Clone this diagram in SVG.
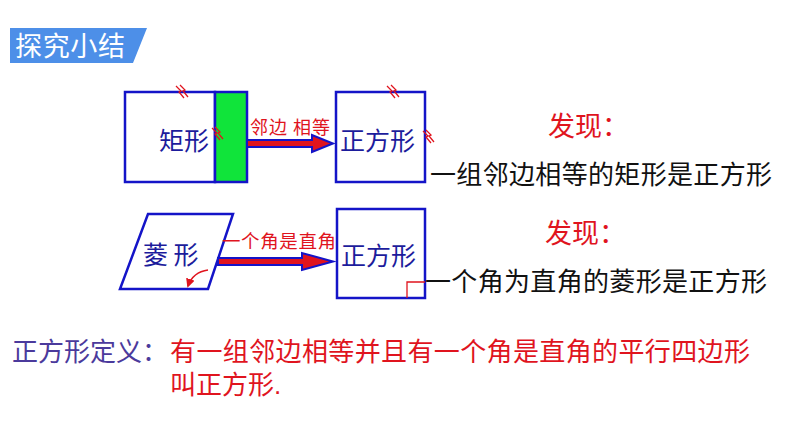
<svg xmlns="http://www.w3.org/2000/svg" width="794" height="447" viewBox="0 0 794 447">
<style>
text{font-family:"Noto Sans CJK SC","Liberation Sans",sans-serif;}
text.def{font-family:"Liberation Sans","Noto Sans CJK SC",sans-serif;}
.box{fill:#fff;stroke:#1414c8;stroke-width:2.5;}
.lbl{fill:#1c1c9c;font-size:25px;}
.red{fill:#e0141e;}
.blk{fill:#111;font-size:26px;}
.tick{stroke:#e0141e;stroke-width:1.3;fill:none;}
.arrow{fill:#e0141e;stroke:#1414c8;stroke-width:2;stroke-linejoin:miter;}
</style>
<defs>
<marker id="ah" viewBox="0 0 10 10" refX="8" refY="5" markerWidth="6" markerHeight="6" orient="auto"><path d="M0 0L10 5L0 10z" fill="#e0141e"/></marker>
</defs>
<rect width="794" height="447" fill="#fff"/>
<g id="header">
<polygon points="10,28 147,28 133,63 10,63" fill="#4d8fe8"/>
<text x="15" y="56" font-size="27" fill="#fff" textLength="110" lengthAdjust="spacing">探究小结</text>
</g>
<g id="rect">
<rect class="box" x="125" y="92" width="90" height="90"/>
<rect x="215" y="92" width="32" height="90" fill="#10e43a" stroke="#1414c8" stroke-width="2.5"/>
<text class="lbl" x="159" y="150" font-size="26">矩形</text>
<path class="tick" d="M176 86L181 91L179 92L184 98M180 85L185 90L183 91L188 97"/>
<path class="tick" d="M212 128L217 133L215 134L220 140M215 127L220 132L218 133L223 139"/>
</g>
<g id="square1">
<rect class="box" x="336" y="92" width="89" height="90"/>
<text class="lbl" x="340" y="150" font-size="26">正方形</text>
<path class="tick" d="M387 86L392 91L390 92L395 98M391 85L396 90L394 91L399 97"/>
<path class="tick" d="M423 131L428 136L426 137L431 143M426 130L431 135L429 136L434 142"/>
</g>
<g id="rhombus">
<polygon class="box" points="148,214 233,214 208,289 120,289"/>
<text class="lbl" x="143" y="264" font-size="26">菱 形</text>
<path d="M208 270Q193 272 188 286" fill="none" stroke="#e0141e" stroke-width="1.5" marker-end="url(#ah)"/>
</g>
<g id="square2">
<rect class="box" x="337" y="209" width="88" height="89"/>
<text class="lbl" x="341" y="265" font-size="26">正方形</text>
<path d="M407 298V282H425" fill="none" stroke="#e0141e" stroke-width="1.3"/>
</g>
<g id="connectors">
<polygon class="arrow" points="247,140 312,140 312,135 333,143.5 312,152 312,147 247,147"/>
<text class="red" x="250" y="134" font-size="18" textLength="80" lengthAdjust="spacing">邻边 相等</text>
<polygon class="arrow" points="218,258 302,258 302,253 333,261.5 302,270 302,265 218,265"/>
<text class="red" x="222" y="248" font-size="18.5" textLength="114" lengthAdjust="spacing">一个角是直角</text>
</g>
<g id="notes">
<text class="red" x="548" y="136" font-size="27">发现：</text>
<text class="blk" x="430" y="184" textLength="342" lengthAdjust="spacing">一组邻边相等的矩形是正方形</text>
<text class="red" x="545" y="243" font-size="27">发现：</text>
<text class="blk" x="425" y="291" textLength="342" lengthAdjust="spacing">一个角为直角的菱形是正方形</text>
</g>
<g id="definition">
<text x="12" y="361" font-size="26" fill="#4b3a9c" textLength="156" lengthAdjust="spacing">正方形定义：</text>
<text class="red def" x="170" y="361" font-size="26" textLength="580" lengthAdjust="spacing">有一组邻边相等并且有一个角是直角的平行四边形</text>
<text class="red def" x="170" y="394" font-size="26">叫正方形.</text>
</g>
</svg>
